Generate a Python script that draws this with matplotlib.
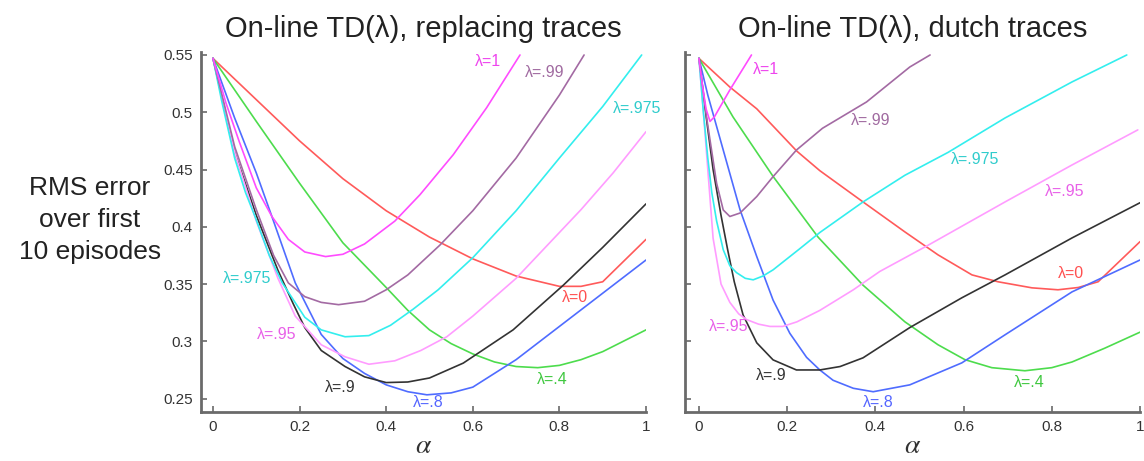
import matplotlib
matplotlib.use('Agg')
import matplotlib.pyplot as plt

plt.rcParams['font.family'] = ['Liberation Sans', 'DejaVu Sans']
plt.rcParams['mathtext.fontset'] = 'stix'

# ---------------- data: replacing traces (left) ----------------
rep_x_l0 = [0, 0.1, 0.2, 0.3, 0.4, 0.5, 0.6, 0.7, 0.8, 0.85, 0.9, 1.0]
rep_y_l0 = [0.547, 0.511, 0.475, 0.442, 0.414, 0.391, 0.372, 0.357, 0.348, 0.348, 0.352, 0.389]

rep_x_l4 = [0, 0.1, 0.2, 0.3, 0.4, 0.45, 0.5, 0.55, 0.6, 0.65, 0.7, 0.75, 0.8, 0.85, 0.9, 1.0]
rep_y_l4 = [0.547, 0.492, 0.438, 0.386, 0.347, 0.327, 0.310, 0.298, 0.289, 0.282, 0.278, 0.277, 0.279, 0.284, 0.291, 0.310]

rep_x_l8 = [0, 0.05, 0.1, 0.136, 0.19, 0.25, 0.3, 0.35, 0.4, 0.45, 0.494, 0.55, 0.6, 0.7, 0.8, 0.9, 1.0]
rep_y_l8 = [0.547, 0.495, 0.447, 0.409, 0.351, 0.306, 0.285, 0.272, 0.262, 0.256, 0.2533, 0.255, 0.260, 0.284, 0.313, 0.342, 0.371]

rep_x_l9 = [0, 0.05, 0.1, 0.15, 0.185, 0.212, 0.25, 0.305, 0.35, 0.4, 0.45, 0.5, 0.578, 0.693, 0.809, 0.9, 1.0]
rep_y_l9 = [0.547, 0.465, 0.41, 0.362, 0.333, 0.312, 0.292, 0.278, 0.269, 0.264, 0.2645, 0.268, 0.281, 0.31, 0.349, 0.382, 0.42]

rep_x_l95 = [0, 0.05, 0.1, 0.15, 0.19, 0.25, 0.305, 0.36, 0.42, 0.48, 0.54, 0.6, 0.7, 0.785, 0.85, 0.924, 1.0]
rep_y_l95 = [0.547, 0.465, 0.405, 0.355, 0.322, 0.297, 0.2865, 0.280, 0.283, 0.292, 0.304, 0.322, 0.355, 0.389, 0.415, 0.447, 0.483]

rep_x_l975 = [0, 0.02, 0.05, 0.075, 0.097, 0.13, 0.16, 0.212, 0.25, 0.305, 0.36, 0.41, 0.462, 0.52, 0.6, 0.7, 0.8, 0.9, 0.99]
rep_y_l975 = [0.547, 0.51, 0.46, 0.43, 0.409, 0.375, 0.351, 0.321, 0.31, 0.304, 0.305, 0.314, 0.328, 0.345, 0.373, 0.414, 0.46, 0.505, 0.55]

rep_x_l99 = [0, 0.05, 0.1, 0.14, 0.174, 0.212, 0.25, 0.29, 0.35, 0.4, 0.45, 0.524, 0.6, 0.7, 0.8, 0.857]
rep_y_l99 = [0.547, 0.47, 0.415, 0.375, 0.351, 0.339, 0.334, 0.332, 0.335, 0.345, 0.358, 0.384, 0.414, 0.46, 0.515, 0.55]

rep_x_l1 = [0, 0.03, 0.06, 0.1, 0.136, 0.174, 0.212, 0.26, 0.3, 0.35, 0.42, 0.478, 0.555, 0.632, 0.709]
rep_y_l1 = [0.547, 0.508, 0.475, 0.434, 0.409, 0.389, 0.378, 0.374, 0.376, 0.385, 0.405, 0.428, 0.463, 0.504, 0.55]

# ---------------- data: dutch traces (right) ----------------
dut_x_l0 = [0, 0.07, 0.131, 0.222, 0.274, 0.372, 0.467, 0.542, 0.619, 0.678, 0.755, 0.814, 0.86, 0.905, 1.0]
dut_y_l0 = [0.547, 0.522, 0.503, 0.466, 0.449, 0.4217, 0.3955, 0.3755, 0.358, 0.352, 0.3467, 0.345, 0.347, 0.352, 0.387]

dut_x_l4 = [0, 0.077, 0.168, 0.27, 0.372, 0.467, 0.542, 0.603, 0.664, 0.739, 0.8, 0.846, 0.92, 1.0]
dut_y_l4 = [0.547, 0.496, 0.444, 0.391, 0.349, 0.317, 0.297, 0.284, 0.277, 0.2743, 0.277, 0.282, 0.294, 0.308]

dut_x_l8 = [0, 0.02, 0.055, 0.093, 0.131, 0.168, 0.206, 0.244, 0.274, 0.304, 0.35, 0.395, 0.478, 0.596, 0.694, 0.846, 1.0]
dut_y_l8 = [0.547, 0.515, 0.467, 0.415, 0.374, 0.336, 0.307, 0.286, 0.275, 0.266, 0.259, 0.256, 0.262, 0.2812, 0.3057, 0.3432, 0.371]

dut_x_l9 = [0, 0.015, 0.032, 0.05, 0.065, 0.08, 0.1, 0.131, 0.168, 0.221, 0.274, 0.32, 0.372, 0.478, 0.596, 0.694, 0.846, 1.0]
dut_y_l9 = [0.547, 0.50, 0.45, 0.41, 0.38, 0.352, 0.323, 0.2987, 0.2838, 0.275, 0.275, 0.278, 0.2856, 0.312, 0.338, 0.358, 0.3903, 0.421]

dut_x_l95 = [0, 0.01, 0.02, 0.032, 0.05, 0.07, 0.09, 0.108, 0.135, 0.161, 0.19, 0.222, 0.274, 0.35, 0.41, 0.52, 0.694, 0.846, 0.995]
dut_y_l95 = [0.547, 0.50, 0.45, 0.39, 0.35, 0.334, 0.324, 0.319, 0.315, 0.313, 0.313, 0.317, 0.327, 0.345, 0.361, 0.384, 0.4217, 0.454, 0.4846]

dut_x_l975 = [0, 0.01, 0.02, 0.029, 0.04, 0.055, 0.07, 0.085, 0.105, 0.123, 0.145, 0.168, 0.229, 0.274, 0.372, 0.467, 0.565, 0.694, 0.846, 0.97]
dut_y_l975 = [0.547, 0.50, 0.46, 0.43, 0.405, 0.38, 0.366, 0.36, 0.355, 0.3537, 0.357, 0.3624, 0.381, 0.395, 0.4217, 0.445, 0.465, 0.495, 0.5265, 0.55]

dut_x_l99 = [0, 0.017, 0.04, 0.055, 0.07, 0.093, 0.131, 0.168, 0.221, 0.28, 0.38, 0.478, 0.524]
dut_y_l99 = [0.547, 0.496, 0.438, 0.4147, 0.409, 0.412, 0.4264, 0.4438, 0.467, 0.486, 0.509, 0.5395, 0.55]

dut_x_l1 = [0, 0.008, 0.016, 0.025, 0.035, 0.07, 0.119]
dut_y_l1 = [0.547, 0.523, 0.503, 0.492, 0.496, 0.5195, 0.55]

# ---------------- labels ----------------
lam_names = ['λ=0', 'λ=.4', 'λ=.8', 'λ=.9', 'λ=.95', 'λ=.975', 'λ=.99', 'λ=1']
line_colors = ['#ff5a5a', '#4ddc4d', '#4f6cff', '#333333', '#ff9cff', '#33eeee', '#a36aa3', '#ff4cff']
text_colors = ['#ff5050', '#40c840', '#5566ff', '#333333', '#e860e8', '#30cccc', '#a06aa0', '#ee44ee']

rep_lbl_x = [0.836, 0.783, 0.497, 0.293, 0.148, 0.079, 0.767, 0.635]
rep_lbl_y = [0.338, 0.2664, 0.2463, 0.2594, 0.3057, 0.3545, 0.535, 0.544]
rep_extra_lbl = ('λ=.975', 0.98, 0.503)

dut_lbl_x = [0.844, 0.748, 0.406, 0.163, 0.068, 0.626, 0.39, 0.152]
dut_lbl_y = [0.359, 0.2638, 0.247, 0.27, 0.3127, 0.4584, 0.4924, 0.537]
dut_extra_lbl = ('λ=.95', 0.828, 0.4305)

titles = ['On-line TD(λ), replacing traces', 'On-line TD(λ), dutch traces']
ytick_vals = [0.25, 0.3, 0.35, 0.4, 0.45, 0.5, 0.55]
ytick_lbls = ['0.25', '0.3', '0.35', '0.4', '0.45', '0.5', '0.55']
xtick_vals = [0, 0.2, 0.4, 0.6, 0.8, 1.0]
xtick_lbls = ['0', '0.2', '0.4', '0.6', '0.8', '1']

rep_series = [(rep_x_l0, rep_y_l0), (rep_x_l4, rep_y_l4), (rep_x_l8, rep_y_l8), (rep_x_l9, rep_y_l9),
              (rep_x_l95, rep_y_l95), (rep_x_l975, rep_y_l975), (rep_x_l99, rep_y_l99), (rep_x_l1, rep_y_l1)]
dut_series = [(dut_x_l0, dut_y_l0), (dut_x_l4, dut_y_l4), (dut_x_l8, dut_y_l8), (dut_x_l9, dut_y_l9),
              (dut_x_l95, dut_y_l95), (dut_x_l975, dut_y_l975), (dut_x_l99, dut_y_l99), (dut_x_l1, dut_y_l1)]

W, H = 1144, 461
fig = plt.figure(figsize=(W / 100, H / 100), dpi=100)
axL = fig.add_axes([201 / W, (H - 412) / H, 445 / W, 360 / H])
axR = fig.add_axes([685 / W, (H - 412) / H, 455 / W, 360 / H])

spine_col = '#6a6a6a'


def style(ax, xlo, show_ylabels):
    ax.set_xlim(xlo, 1.0)
    ax.set_ylim(0.2383, 0.5526)
    for s in ['top', 'right']:
        ax.spines[s].set_visible(False)
    for s in ['left', 'bottom']:
        ax.spines[s].set_color(spine_col)
        ax.spines[s].set_linewidth(2.0)
    ax.set_xticks(xtick_vals)
    ax.set_xticklabels(xtick_lbls)
    ax.set_yticks(ytick_vals)
    if show_ylabels:
        ax.set_yticklabels(ytick_lbls)
    else:
        ax.set_yticklabels([])
    ax.tick_params(direction='in', length=4, width=1.2, color=spine_col,
                   labelsize=11, labelcolor='#333333', pad=6)
    ax.set_xlabel(r'$\alpha$', fontsize=20, color='#333333', va='center')
    ax.xaxis.set_label_coords(0.5, -0.094)


for ax, series, lx, ly, extra, title, xlo, showy in [
        (axL, rep_series, rep_lbl_x, rep_lbl_y, rep_extra_lbl, titles[0], -0.0277, True),
        (axR, dut_series, dut_lbl_x, dut_lbl_y, dut_extra_lbl, titles[1], -0.0317, False)]:
    for (xs, ys), lc, tc, name, tx, ty in zip(series, line_colors, text_colors, lam_names, lx, ly):
        ax.plot(xs, ys, color=lc, lw=1.2, solid_joinstyle='round', solid_capstyle='round')
        ax.text(tx, ty, name, color=tc, fontsize=11.5, ha='center', va='center')
    name, tx, ty = extra
    tc = text_colors[lam_names.index(name)]
    ax.text(tx, ty, name, color=tc, fontsize=11.5, ha='center', va='center')
    style(ax, xlo, showy)
    ax.set_title(title, fontsize=21, color='#222222', pad=11)

fig.text(90 / W, (H - 220) / H, 'RMS error\nover first\n10 episodes', ha='center', va='center',
         fontsize=19, color='#222222', linespacing=1.4)

fig.savefig('out.png', dpi=100)
